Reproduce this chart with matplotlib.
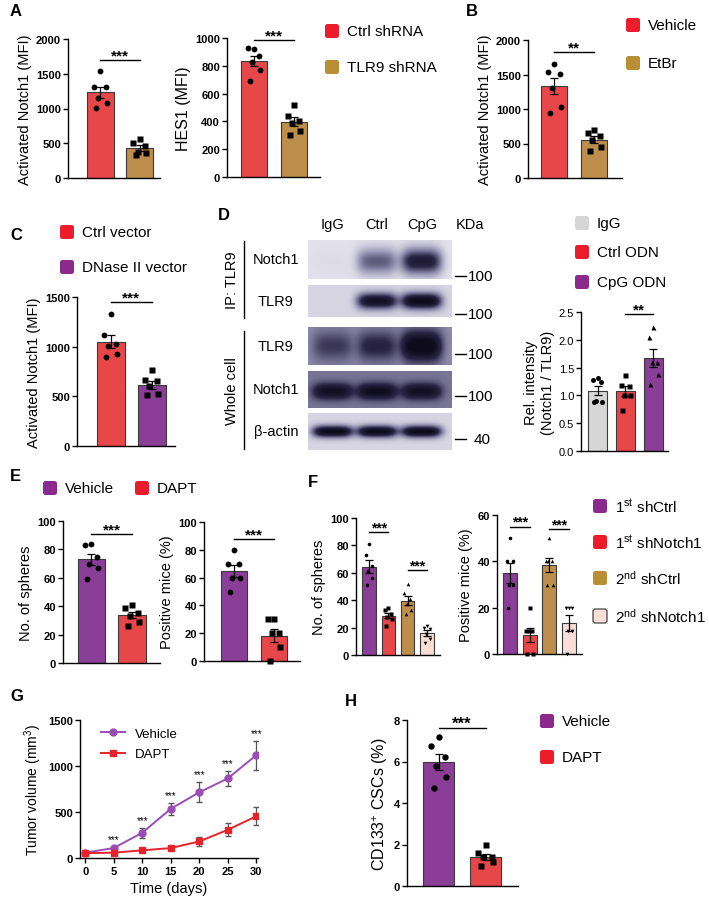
import numpy as np
import matplotlib
matplotlib.use('Agg')
import matplotlib.pyplot as plt
from matplotlib.patches import FancyBboxPatch
from matplotlib.transforms import IdentityTransform
from matplotlib.colors import LinearSegmentedColormap
from matplotlib.lines import Line2D

plt.rcParams['font.family'] = ['Liberation Sans', 'DejaVu Sans']
plt.rcParams['mathtext.fontset'] = 'custom'
plt.rcParams['mathtext.rm'] = 'Liberation Sans'
plt.rcParams['mathtext.it'] = 'Liberation Sans:italic'
plt.rcParams['axes.linewidth'] = 1.0

W, H = 709, 904

RED = '#E8474A'
RED_KEY = '#EC1C2A'
BROWN = '#BE8E4C'
BROWN_KEY = '#B98F35'
PURPLE = '#8A3E97'
PURPLE_KEY = '#8B2A8C'
GREY = '#D6D6D6'
PINK = '#F9DDD6'

# ---------------- data ----------------
# A
a_notch_ctrl = [1535, 1314, 1314, 1151, 1079, 1002]
a_notch_tlr9 = [560, 500, 465, 370, 360, 330]
a_hes1_ctrl = [918, 928, 873, 825, 772, 688]
a_hes1_tlr9 = [520, 440, 400, 385, 330, 305]
# B
b_vehicle = [1648, 1537, 1504, 1301, 1036, 940]
b_etbr = [694, 646, 602, 554, 443, 395]
# C
c_ctrl = [1331, 1119, 1028, 1011, 927, 893]
c_dnase = [770, 660, 650, 600, 520, 510]
# D
d_rows = ['Notch1', 'TLR9', 'TLR9', 'Notch1', 'β-actin']
d_lanes = ['IgG', 'Ctrl', 'CpG']
d_kda = ['100', '100', '100', '100', '40']
d_band = [[0.02, 0.45, 0.75],
          [0.00, 0.85, 0.95],
          [0.28, 0.38, 0.78],
          [0.55, 0.60, 0.55],
          [0.95, 0.95, 0.95]]
d_bg = [0.04, 0.08, 0.33, 0.40, 0.08]
d_igg = [1.31, 1.27, 1.25, 0.90, 0.89, 0.89]
d_ctrl = [1.37, 1.18, 1.17, 1.01, 1.00, 0.74]
d_cpg = [2.23, 2.05, 1.60, 1.60, 1.39, 1.20]
# E
e_sph_vehicle = [84, 83, 75, 70, 67, 59]
e_sph_dapt = [41, 39, 35, 33, 29, 26]
e_mice_vehicle = [80, 70, 70, 60, 60, 50]
e_mice_dapt = [30, 30, 20, 20, 10, 0]
# F
f_sph = [[81, 73, 65, 61, 56, 51],
         [34, 33, 30, 28, 26, 21],
         [52, 45, 41, 37, 33, 30],
         [21, 20, 19, 15, 12, 9]]
f_mice = [[50, 40, 40, 30, 30, 20],
          [20, 10, 10, 10, 0, 0],
          [50, 40, 40, 40, 30, 30],
          [20, 20, 20, 10, 10, 0]]
f_labels = [r'1$^{\mathrm{st}}$ shCtrl', r'1$^{\mathrm{st}}$ shNotch1',
            r'2$^{\mathrm{nd}}$ shCtrl', r'2$^{\mathrm{nd}}$ shNotch1']
# G
days = [0, 5, 10, 15, 20, 25, 30]
g_vehicle = [58, 108, 274, 534, 714, 865, 1118]
g_vehicle_err = [8, 12, 52, 68, 110, 82, 158]
g_dapt = [52, 58, 83, 108, 180, 306, 454]
g_dapt_err = [6, 8, 12, 20, 48, 70, 95]
# H
h_vehicle = [7.16, 6.76, 6.2, 5.8, 5.24, 4.71]
h_dapt = [1.99, 1.6, 1.39, 1.39, 1.15, 0.96]

OFFS = [0.0, -0.24, 0.2, -0.08, 0.24, -0.16]

fig = plt.figure(figsize=(W / 100, H / 100), dpi=100)


def px_axes(x0, y0, x1, y1):
    return fig.add_axes([x0 / W, 1 - y1 / H, (x1 - x0) / W, (y1 - y0) / H])


def ftext(x, y, s, **kw):
    fig.text(x / W, 1 - y / H, s, **kw)


def key(x, y, color, label, edge='none', size=14):
    p = FancyBboxPatch((x, H - y - size / 2), size, size,
                       boxstyle='round,pad=0,rounding_size=2.5',
                       fc=color, ec=edge, lw=1.0, transform=IdentityTransform())
    fig.add_artist(p)
    ftext(x + size + 8, y, label, va='center', ha='left', fontsize=11)


def style(ax, ylim, yticks, ylabel, ylsize=10.5):
    ax.set_ylim(*ylim)
    ax.set_yticks(yticks)
    ax.spines[['top', 'right']].set_visible(False)
    ax.tick_params(axis='y', length=3.5, width=1.0, pad=1.5, labelsize=8)
    for t in ax.get_yticklabels():
        t.set_fontweight('bold')
    ax.set_ylabel(ylabel, fontsize=ylsize, labelpad=3)


def bar_panel(box, xlim, groups, colors, markers, ylim, yticks, ylabel,
              width=0.68, ms=4.2):
    ax = px_axes(*box)
    for i, vals in enumerate(groups):
        vals = np.asarray(vals, float)
        mean = vals.mean()
        sem = vals.std(ddof=1) / np.sqrt(len(vals))
        ax.bar(i, mean, width, color=colors[i], edgecolor='#3a3a3a', linewidth=0.8, zorder=1)
        ax.errorbar(i, mean, yerr=sem, color='black', lw=0.9, capsize=3,
                    capthick=0.9, zorder=3)
        ax.plot(i + np.array(OFFS[:len(vals)]) * width, vals, ls='none',
                marker=markers[i], ms=ms, color='black', mec='none',
                zorder=4, clip_on=False)
    ax.set_xlim(*xlim)
    ax.set_xticks([])
    style(ax, ylim, yticks, ylabel)
    return ax


def sig(ax, i0, i1, y, s, size=11):
    ax.plot([i0, i1], [y, y], color='black', lw=1.0, clip_on=False)
    ax.annotate(s, xy=((i0 + i1) / 2, y), xytext=(0, 0.5), textcoords='offset points',
                ha='center', va='baseline', fontsize=size, fontweight='bold',
                annotation_clip=False)


# ---------------- A ----------------
ax = bar_panel((68, 40, 160, 179), (-0.82, 1.51), [a_notch_ctrl, a_notch_tlr9],
               [RED, BROWN], ['o', 's'], (0, 2000), [0, 500, 1000, 1500, 2000],
               'Activated Notch1 (MFI)')
sig(ax, 0, 1, 1700, '***')
ax = bar_panel((227, 39, 320, 178), (-0.68, 1.65), [a_hes1_ctrl, a_hes1_tlr9],
               [RED, BROWN], ['o', 's'], (0, 1000), [0, 200, 400, 600, 800, 1000],
               'HES1 (MFI)', width=0.65)
ax.yaxis.label.set_size(11.5)
sig(ax, 0, 1, 985, '***')
key(325, 32, RED_KEY, 'Ctrl shRNA')
key(325, 68, BROWN_KEY, 'TLR9 shRNA')

# ---------------- B ----------------
ax = bar_panel((528, 41, 622, 179), (-0.66, 1.69), [b_vehicle, b_etbr],
               [RED, BROWN], ['o', 's'], (0, 2000), [0, 500, 1000, 1500, 2000],
               'Activated Notch1 (MFI)', width=0.65)
sig(ax, 0, 1, 1826, '**')
key(626, 26, RED_KEY, 'Vehicle')
key(626, 64, BROWN_KEY, 'EtBr')

# ---------------- C ----------------
ax = bar_panel((77, 298, 175, 447), (-0.82, 1.57), [c_ctrl, c_dnase],
               [RED, PURPLE], ['o', 's'], (0, 1500), [0, 500, 1000, 1500],
               'Activated Notch1 (MFI)')
sig(ax, 0, 1, 1449, '***')
key(60, 233, RED_KEY, 'Ctrl vector')
key(60, 268, PURPLE_KEY, 'DNase II vector')

# ---------------- D blot ----------------
blot_cmap = LinearSegmentedColormap.from_list(
    'blot', ['#EEEDF4', '#8D89AA', '#2A2545', '#0D0B1C'])
strips = [(241, 280, 0.55, 0.33), (286, 318, 0.5, 0.25), (328, 366, 0.5, 0.4),
          (372, 409, 0.55, 0.22), (414, 451, 0.5, 0.16)]
lane_x = [0.17, 0.48, 0.79]
xx, yy = np.meshgrid(np.linspace(0, 1, 144), np.linspace(0, 1, 40))
for r, (y0, y1, yc, sy) in enumerate(strips):
    img = np.full_like(xx, d_bg[r])
    for cx, amp in zip(lane_x, d_band[r]):
        img += amp * np.exp(-((xx - cx) / 0.14) ** 4) * np.exp(-((yy - yc) / sy) ** 2)
    bax = px_axes(308, y0, 452, y1)
    bax.imshow(np.clip(img, 0, 1), cmap=blot_cmap, vmin=0, vmax=1, aspect='auto')
    bax.axis('off')
    ftext(276, (y0 + y1) / 2, d_rows[r], ha='center', va='center', fontsize=10.5)
    ym = [277, 315, 355, 397, 440][r]
    fig.add_artist(Line2D([455 / W, 466 / W], [1 - ym / H, 1 - ym / H],
                          color='black', lw=1.0))
    ftext(468 if r < 4 else 474, ym, d_kda[r], ha='left', va='center', fontsize=11)
for name, x in zip(d_lanes + ['KDa'], [332, 377, 422, 470]):
    ftext(x, 225, name, ha='center', va='center', fontsize=10.5)
for (y0, y1), lab in zip([(242, 319), (332, 450)], ['IP: TLR9', 'Whole cell']):
    fig.add_artist(Line2D([244 / W, 244 / W], [1 - y0 / H, 1 - y1 / H],
                          color='black', lw=1.0))
    ftext(232, (y0 + y1) / 2, lab, ha='center', va='center', rotation=90, fontsize=10.5)

# ---------------- D bar ----------------
ax = bar_panel((581, 313, 668, 452), (-0.59, 2.52), [d_igg, d_ctrl, d_cpg],
               [GREY, RED, PURPLE], ['o', 's', '^'], (0, 2.5),
               [0.0, 0.5, 1.0, 1.5, 2.0, 2.5], 'Rel. intensity\n(Notch1 / TLR9)', ms=3.6)
ax.set_yticklabels(['0.0', '0.5', '1.0', '1.5', '2.0', '2.5'])
for t in ax.get_yticklabels():
    t.set_fontweight('normal')
sig(ax, 1, 2, 2.47, '**')
key(575, 224, GREY, 'IgG')
key(575, 253, RED_KEY, 'Ctrl ODN')
key(575, 283, PURPLE_KEY, 'CpG ODN')

# ---------------- E ----------------
ax = bar_panel((63, 522, 160, 664), (-0.7, 1.69), [e_sph_vehicle, e_sph_dapt],
               [PURPLE, RED], ['o', 's'], (0, 100), [0, 20, 40, 60, 80, 100],
               'No. of spheres')
sig(ax, 0, 1, 91, '***')
ax = bar_panel((204, 523, 300, 662), (-0.75, 1.65), [e_mice_vehicle, e_mice_dapt],
               [PURPLE, RED], ['o', 's'], (0, 100), [0, 20, 40, 60, 80, 100],
               'Positive mice (%)', width=0.65)
sig(ax, 0, 1, 88, '***')
key(43, 489, PURPLE_KEY, 'Vehicle')
key(135, 489, RED_KEY, 'DAPT')

# ---------------- F ----------------
f_colors = [PURPLE, RED, BROWN, PINK]
f_marks = ['o', 's', '^', 'v']
ax = bar_panel((356, 519, 440, 656), (-0.67, 3.67), f_sph, f_colors, f_marks,
               (0, 100), [0, 20, 40, 60, 80, 100], 'No. of spheres', width=0.7, ms=2.6)
sig(ax, 0, 1, 90, '***', size=10)
sig(ax, 2, 3, 62, '***', size=10)
ax = bar_panel((497, 516, 582, 655), (-0.66, 3.66), f_mice, f_colors, f_marks,
               (0, 60), [0, 20, 40, 60], 'Positive mice (%)', width=0.71, ms=2.6)
sig(ax, 0, 1, 55, '***', size=10)
sig(ax, 2, 3, 54, '***', size=10)
for lab, c, y, e in zip(f_labels, [PURPLE_KEY, RED_KEY, BROWN_KEY, PINK],
                        [507, 543, 579, 617], ['none', 'none', 'none', '#555555']):
    key(593, y, c, lab, edge=e)

# ---------------- G ----------------
VEH_LINE = '#9B4DB5'
DAPT_LINE = '#E8222A'
ax = px_axes(80, 721, 258, 859)
ax.errorbar(days, g_vehicle, yerr=g_vehicle_err, color=VEH_LINE, ecolor='#555555',
            lw=1.4, elinewidth=0.9, capsize=2.5, marker='o', ms=5, zorder=3)
ax.errorbar(days, g_dapt, yerr=g_dapt_err, color=DAPT_LINE, ecolor='#555555',
            lw=1.4, elinewidth=0.9, capsize=2.5, marker='s', ms=5, zorder=3)
for d, v, e in zip(days[1:], g_vehicle[1:], g_vehicle_err[1:]):
    ax.annotate('***', xy=(d, v + e), xytext=(0, 2), textcoords='offset points',
                ha='center', va='bottom', fontsize=7)
ax.set_xlim(-0.9, 30.3)
ax.set_xticks(days)
ax.tick_params(axis='x', length=3.5, width=1.0, pad=2, labelsize=8)
for t in ax.get_xticklabels():
    t.set_fontweight('bold')
style(ax, (0, 1500), [0, 500, 1000, 1500], 'Tumor volume (mm$^3$)', ylsize=10)
ax.set_xlabel('Time (days)', fontsize=10.5, labelpad=4)
handles = [Line2D([], [], color=VEH_LINE, lw=1.4, marker='o', ms=5),
           Line2D([], [], color=DAPT_LINE, lw=1.4, marker='s', ms=5)]
ax.legend(handles, ['Vehicle', 'DAPT'], loc='upper left', bbox_to_anchor=(0.05, 1.03),
          frameon=False, fontsize=9.5, handlelength=1.8, labelspacing=0.6)

# ---------------- H ----------------
ax = bar_panel((407, 721, 518, 887), (-0.67, 1.69), [h_vehicle, h_dapt],
               [PURPLE, RED], ['o', 's'], (0, 8), [0, 2, 4, 6, 8],
               'CD133$^{+}$ CSCs (%)', width=0.66, ms=4.6)
ax.yaxis.label.set_size(11.5)
sig(ax, 0, 1, 7.6, '***', size=12)
key(540, 722, PURPLE_KEY, 'Vehicle')
key(540, 758, RED_KEY, 'DAPT')

# ---------------- panel letters ----------------
for s, x, y in [('A', 10, 12), ('B', 466, 12), ('C', 10, 235), ('D', 218, 215),
                ('E', 10, 477), ('F', 308, 483), ('G', 10, 697), ('H', 345, 702)]:
    ftext(x, y, s, ha='left', va='center', fontsize=12, fontweight='bold')

fig.savefig('out.png', dpi=100)
